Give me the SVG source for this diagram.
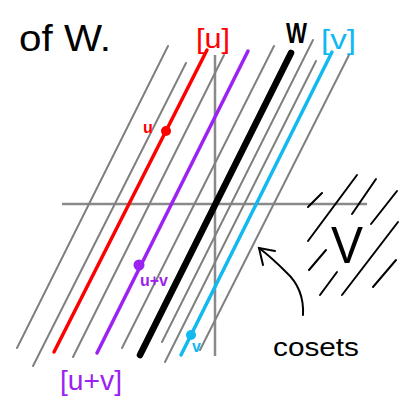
<svg xmlns="http://www.w3.org/2000/svg" width="409" height="412" viewBox="0 0 409 412">
<style>
.g{stroke:#808080;stroke-width:2;stroke-linecap:round;fill:none}
.ax{stroke:#8a8a8a;stroke-width:2.5;fill:none}
.h{stroke:#000;stroke-width:2;stroke-linecap:round;fill:none}
.c{stroke-linecap:round;fill:none}
text{font-family:"Liberation Sans","DejaVu Sans",sans-serif}
</style>
<rect width="409" height="412" fill="#fff"/>
<g id="axes">
<line class="ax" x1="62" y1="204" x2="367" y2="204"/>
<line class="ax" x1="215" y1="55" x2="215" y2="356"/>
</g>
<g id="gray-cosets">
<line class="g" x1="168" y1="46" x2="17" y2="348"/>
<line class="g" x1="186" y1="63" x2="33" y2="366"/>
<line class="g" x1="224" y1="55" x2="73" y2="357"/>
<line class="g" x1="274" y1="46" x2="122" y2="348"/>
<line class="g" x1="313" y1="40" x2="162" y2="342"/>
<line class="g" x1="316" y1="61" x2="165" y2="362"/>
<line class="g" x1="349" y1="55" x2="200" y2="350"/>
</g>
<g id="coset-u">
<line class="c" x1="207" y1="50" x2="54" y2="352" stroke="#ff0000" stroke-width="3.5"/>
<circle cx="166" cy="131" r="5" fill="#ff0000"/>
<text x="143" y="133" font-size="16" font-weight="bold" fill="#ff0000">u</text>
<text x="196" y="48" font-size="27" fill="#ff0000" textLength="34" lengthAdjust="spacingAndGlyphs">[u]</text>
</g>
<g id="coset-uv">
<line class="c" x1="248" y1="51" x2="97" y2="353" stroke="#9b22f0" stroke-width="3.5"/>
<circle cx="139" cy="265" r="5.5" fill="#9b22f0"/>
<text x="140" y="286" font-size="16" font-weight="bold" fill="#9b22f0">u+v</text>
<text x="60" y="390" font-size="28" fill="#9b22f0" textLength="62" lengthAdjust="spacingAndGlyphs">[u+v]</text>
</g>
<g id="subspace-W">
<line class="c" x1="291" y1="53" x2="140" y2="355" stroke="#000" stroke-width="6.5"/>
<text x="286" y="43" font-size="30" font-weight="bold" fill="#000" textLength="21" lengthAdjust="spacingAndGlyphs">W</text>
</g>
<g id="coset-v">
<line class="c" x1="332" y1="52" x2="181" y2="355" stroke="#12b8f0" stroke-width="3.5"/>
<circle cx="191" cy="335" r="5" fill="#12b8f0"/>
<text x="192" y="352" font-size="16" font-weight="bold" fill="#12b8f0">v</text>
<text x="321" y="49" font-size="27" fill="#12b8f0" textLength="35" lengthAdjust="spacingAndGlyphs">[v]</text>
</g>
<g id="quotient-V">
<line class="h" x1="308" y1="207" x2="322" y2="193"/>
<line class="h" x1="308" y1="241" x2="357" y2="175"/>
<line class="h" x1="352" y1="214" x2="376" y2="179"/>
<line class="h" x1="371" y1="224" x2="397" y2="191"/>
<line class="h" x1="309" y1="270" x2="326" y2="250"/>
<line class="h" x1="320" y1="295" x2="337" y2="272"/>
<line class="h" x1="342" y1="295" x2="398" y2="222"/>
<line class="h" x1="373" y1="287" x2="396" y2="260"/>
<text x="331" y="263" font-size="52" font-weight="200" fill="#000" font-family="'DejaVu Sans',sans-serif" textLength="32" lengthAdjust="spacingAndGlyphs">V</text>
</g>
<g id="connectors">
<path class="h" d="M303,315 C304,296 297,282 286,272 C276,262 267,254 259,248"/>
<path class="h" d="M275,251 L259,248 L263,265"/>
</g>
<g id="labels">
<text x="19" y="51" font-size="36" fill="#000" textLength="92" lengthAdjust="spacingAndGlyphs">of W.</text>
<text x="273" y="356" font-size="25" fill="#000" textLength="86" lengthAdjust="spacingAndGlyphs">cosets</text>
</g>
</svg>
